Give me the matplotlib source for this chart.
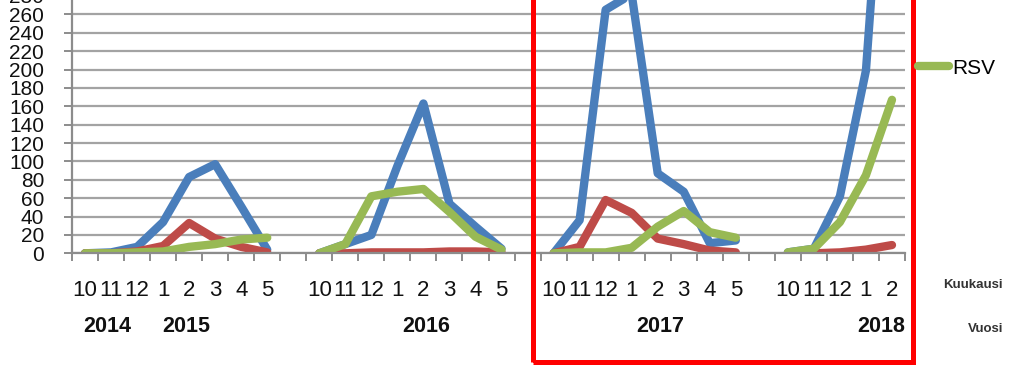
import numpy as np
import matplotlib
matplotlib.use('Agg')
import matplotlib.pyplot as plt
from matplotlib.patches import Rectangle
from matplotlib.transforms import blended_transform_factory

plt.rcParams['font.family'] = ['Liberation Sans', 'DejaVu Sans']
narrow = ['Liberation Sans Narrow', 'Liberation Sans', 'DejaVu Sans']

# month labels per category, '' = gap between seasons
months = ['10', '11', '12', '1', '2', '3', '4', '5', '',
          '10', '11', '12', '1', '2', '3', '4', '5', '',
          '10', '11', '12', '1', '2', '3', '4', '5', '',
          '10', '11', '12', '1', '2']
years = ['2014', '2015', '2016', '2017', '2018']
year_pos = [0.85, 3.9, 13.1, 22.1, 30.6]

nan = np.nan
influenssa_a = [0, 1, 7, 34, 83, 97, 51, 4, nan,
                0, 10, 20, 95, 163, 54, 29, 5, nan,
                0, 36, 265, 282, 87, 67, 11, 14, nan,
                1, 5, 62, 199, 590]
influenssa_b = [0, 0, 2, 8, 33, 16, 7, 1, nan,
                0, 0, 1, 1, 1, 2, 2, 1, nan,
                0, 7, 58, 44, 16, 10, 3, 1, nan,
                0, 0, 1, 4, 9]
rsv = [0, 0, 1, 2, 7, 10, 15, 17, nan,
       0, 10, 62, 67, 70, 45, 18, 4, nan,
       0, 1, 1, 6, 29, 46, 23, 17, nan,
       1, 5, 34, 85, 167]

W, H = 1023, 384
fig = plt.figure(figsize=(W / 100, H / 100), dpi=100)
ymax = 300
px_per_unit = 0.919
ax = fig.add_axes([72 / W, 1 - 253.3 / H, 833 / W, ymax * px_per_unit / H])

x = np.arange(len(months))
kw = dict(lw=6, solid_joinstyle='round', solid_capstyle='round')
ax.plot(x, influenssa_a, color='#4a7ebb', label='Influenssa A', **kw)
ax.plot(x, influenssa_b, color='#be4b48', label='Influenssa B', **kw)
l_rsv, = ax.plot(x, rsv, color='#98b954', label='RSV', **kw)

ax.set_xlim(-0.5, len(months) - 0.5)
ax.set_ylim(0, ymax)
ax.set_yticks(np.arange(0, ymax + 1, 20))
ax.yaxis.grid(True, color='#a3a3a3', lw=1.6)
ax.set_axisbelow(True)
for s in ['top', 'right']:
    ax.spines[s].set_visible(False)
for s in ['left', 'bottom']:
    ax.spines[s].set_color('#8c8c8c')
    ax.spines[s].set_linewidth(1.6)
ax.tick_params(axis='y', direction='out', length=6, width=1.4, color='#8c8c8c',
               labelsize=15, pad=14, labelcolor='#111111')

# category boundary ticks
ax.set_xticks(np.arange(-0.5, len(months)), minor=True)
ax.set_xticks([])
ax.tick_params(axis='x', which='minor', direction='out', length=6, width=1.4,
               color='#8c8c8c')

tr = blended_transform_factory(ax.transData, fig.transFigure)
for i, m in enumerate(months):
    if m:
        ax.text(i, 1 - 290 / H, m, transform=tr, ha='center', va='center',
                fontsize=16, family=narrow, color='#111111')
for yr, p in zip(years, year_pos):
    ax.text(p, 1 - 327 / H, yr, transform=tr, ha='center', va='center',
            fontsize=15.5, fontweight='bold', color='#111111')

fig.text(1003 / W, 1 - 285 / H, 'Kuukausi', ha='right', va='center',
         fontsize=9.5, fontweight='bold', color='#333333')
fig.text(1003 / W, 1 - 329 / H, 'Vuosi', ha='right', va='center',
         fontsize=9.5, fontweight='bold', color='#333333')

fig.legend(handles=[l_rsv], labels=['RSV'], loc='center left',
           bbox_to_anchor=(918 / W, 1 - 68 / H), frameon=False,
           prop={'family': narrow, 'size': 15}, handlelength=1.5,
           handletextpad=0.15, borderpad=0, borderaxespad=0)

fig.add_artist(Rectangle((533 / W, 1 - 362 / H), (913 - 533) / W, 0.99,
                         transform=fig.transFigure, fill=False,
                         ec='#ff0000', lw=3.6, clip_on=False))

fig.savefig('out.png', dpi=100)
